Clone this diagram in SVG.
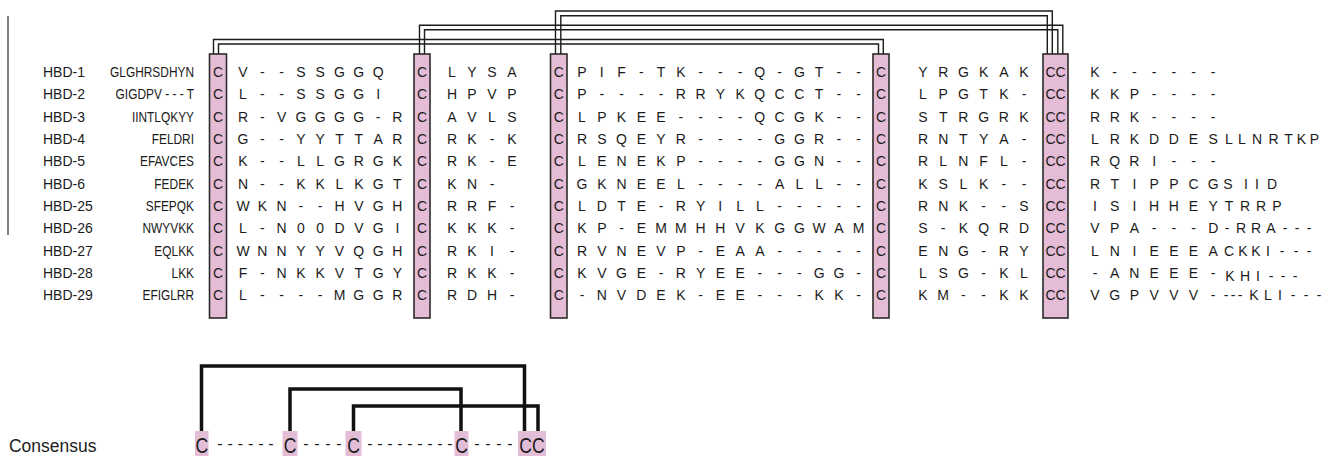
<svg xmlns="http://www.w3.org/2000/svg" width="1331" height="456" viewBox="0 0 1331 456">
<style>
.t{font-family:'Liberation Sans',Arial,Helvetica,sans-serif;font-size:14px;fill:#1b1b1b}
.a{text-anchor:middle}
.e{text-anchor:end}
.box{fill:#e5bcd5;stroke:#2b2b2b;stroke-width:1.6}
.ln{fill:none;stroke:#1b1b1b;stroke-width:1.4}
.cb{fill:#e3bdd5}
.br{fill:none;stroke:#111;stroke-width:3.5}
.ct{font-family:'Liberation Sans',Arial,Helvetica,sans-serif;fill:#1b1b1b}
.cc{font-size:22px;text-anchor:middle}
.dd{font-size:16px;text-anchor:middle}
</style>
<rect width="1331" height="456" fill="#fff"/>
<line x1="8" y1="16" x2="8" y2="235" stroke="#555" stroke-width="1.5"/>

<g id="connectors">
<path class="ln" d="M213.5 54V39.5H883.3V54"/>
<path class="ln" d="M218.5 54V44H878.5V54"/>
<path class="ln" d="M419.5 54V25.3H1062.8V54"/>
<path class="ln" d="M424.5 54V29.8H1057.8V54"/>
<path class="ln" d="M555.5 54V11H1052.3V54"/>
<path class="ln" d="M560.8 54V15.8H1047.3V54"/>
</g>

<g id="cys-columns">
<rect class="box" x="209.5" y="54" width="17" height="264"/>
<rect class="box" x="414" y="54" width="16" height="264"/>
<rect class="box" x="550.5" y="54" width="16.5" height="264"/>
<rect class="box" x="873" y="54" width="16" height="264"/>
<rect class="box" x="1043" y="54" width="25" height="264"/>
<text class="t a" x="218 218 218 218 218 218 218 218 218 218 218" y="76.8 99.15 121.5 143.85 166.2 188.55 210.9 233.25 255.6 277.95 300.3">CCCCCCCCCCC</text>
<text class="t a" x="422 422 422 422 422 422 422 422 422 422 422" y="76.8 99.15 121.5 143.85 166.2 188.55 210.9 233.25 255.6 277.95 300.3">CCCCCCCCCCC</text>
<text class="t a" x="558.7 558.7 558.7 558.7 558.7 558.7 558.7 558.7 558.7 558.7 558.7" y="76.8 99.15 121.5 143.85 166.2 188.55 210.9 233.25 255.6 277.95 300.3">CCCCCCCCCCC</text>
<text class="t a" x="881 881 881 881 881 881 881 881 881 881 881" y="76.8 99.15 121.5 143.85 166.2 188.55 210.9 233.25 255.6 277.95 300.3">CCCCCCCCCCC</text>
<text class="t a" x="1050.5 1060.5 1050.5 1060.5 1050.5 1060.5 1050.5 1060.5 1050.5 1060.5 1050.5 1060.5 1050.5 1060.5 1050.5 1060.5 1050.5 1060.5 1050.5 1060.5 1050.5 1060.5" y="76.8 76.8 99.15 99.15 121.5 121.5 143.85 143.85 166.2 166.2 188.55 188.55 210.9 210.9 233.25 233.25 255.6 255.6 277.95 277.95 300.3 300.3">CCCCCCCCCCCCCCCCCCCCCC</text>
</g>

<g id="row-hbd-1">
<text class="t" x="43" y="76.8">HBD-1</text>
<text class="t e" transform="translate(194 76.8) scale(0.85 1)">GLGHRSDHYN</text>
<text class="t a" y="76.8" x="243 262.3 281.6 300.9 320.2 339.5 358.8 378.1 397.4">V--SSGGQ</text>
<text class="t a" y="76.8" x="452 472 492 512">LYSA</text>
<text class="t a" y="76.8" x="582 601.8 621.5 641.3 661 680.8 700.6 720.3 740.1 759.8 779.6 799.4 819.1 838.9 858.6">PIF-TK---Q-GT--</text>
<text class="t a" y="76.8" x="923 943.2 963.4 983.6 1003.8 1024">YRGKAK</text>
<text class="t a" y="76.8" x="1095 1114.7 1134.4 1154.1 1173.8 1193.5 1213.2">K------</text>
</g>

<g id="row-hbd-2">
<text class="t" x="43" y="99.15">HBD-2</text>
<text class="t e" transform="translate(194 99.15) scale(0.85 1)">GIGDPV - - - T</text>
<text class="t a" y="99.15" x="243 262.3 281.6 300.9 320.2 339.5 358.8 378.1 397.4">L--SSGGI</text>
<text class="t a" y="99.15" x="452 472 492 512">HPVP</text>
<text class="t a" y="99.15" x="582 601.8 621.5 641.3 661 680.8 700.6 720.3 740.1 759.8 779.6 799.4 819.1 838.9 858.6">P----RRYKQCCT--</text>
<text class="t a" y="99.15" x="923 943.2 963.4 983.6 1003.8 1024">LPGTK-</text>
<text class="t a" y="99.15" x="1095 1114.7 1134.4 1154.1 1173.8 1193.5 1213.2">KKP----</text>
</g>

<g id="row-hbd-3">
<text class="t" x="43" y="121.5">HBD-3</text>
<text class="t e" transform="translate(194 121.5) scale(0.85 1)">IINTLQKYY</text>
<text class="t a" y="121.5" x="243 262.3 281.6 300.9 320.2 339.5 358.8 378.1 397.4">R-VGGGG-R</text>
<text class="t a" y="121.5" x="452 472 492 512">AVLS</text>
<text class="t a" y="121.5" x="582 601.8 621.5 641.3 661 680.8 700.6 720.3 740.1 759.8 779.6 799.4 819.1 838.9 858.6">LPKEE----QCGK--</text>
<text class="t a" y="121.5" x="923 943.2 963.4 983.6 1003.8 1024">STRGRK</text>
<text class="t a" y="121.5" x="1095 1114.7 1134.4 1154.1 1173.8 1193.5 1213.2">RRK----</text>
</g>

<g id="row-hbd-4">
<text class="t" x="43" y="143.85">HBD-4</text>
<text class="t e" transform="translate(194 143.85) scale(0.85 1)">FELDRI</text>
<text class="t a" y="143.85" x="243 262.3 281.6 300.9 320.2 339.5 358.8 378.1 397.4">G--YYTTAR</text>
<text class="t a" y="143.85" x="452 472 492 512">RK-K</text>
<text class="t a" y="143.85" x="582 601.8 621.5 641.3 661 680.8 700.6 720.3 740.1 759.8 779.6 799.4 819.1 838.9 858.6">RSQEYR----GGR--</text>
<text class="t a" y="143.85" x="923 943.2 963.4 983.6 1003.8 1024">RNTYA-</text>
<text class="t a" y="143.85" x="1095 1114.7 1134.4 1154.1 1173.8 1193.5 1213.2 1229 1242 1257 1273.5 1288.5 1301.5 1314.5">LRKDDESLLNRTKP</text>
</g>

<g id="row-hbd-5">
<text class="t" x="43" y="166.2">HBD-5</text>
<text class="t e" transform="translate(194 166.2) scale(0.85 1)">EFAVCES</text>
<text class="t a" y="166.2" x="243 262.3 281.6 300.9 320.2 339.5 358.8 378.1 397.4">K--LLGRGK</text>
<text class="t a" y="166.2" x="452 472 492 512">RK-E</text>
<text class="t a" y="166.2" x="582 601.8 621.5 641.3 661 680.8 700.6 720.3 740.1 759.8 779.6 799.4 819.1 838.9 858.6">LENEKP----GGN--</text>
<text class="t a" y="166.2" x="923 943.2 963.4 983.6 1003.8 1024">RLNFL-</text>
<text class="t a" y="166.2" x="1095 1114.7 1134.4 1154.1 1173.8 1193.5 1213.2">RQRI---</text>
</g>

<g id="row-hbd-6">
<text class="t" x="43" y="188.55">HBD-6</text>
<text class="t e" transform="translate(194 188.55) scale(0.85 1)">FEDEK</text>
<text class="t a" y="188.55" x="243 262.3 281.6 300.9 320.2 339.5 358.8 378.1 397.4">N--KKLKGT</text>
<text class="t a" y="188.55" x="452 472 492 512">KN-</text>
<text class="t a" y="188.55" x="582 601.8 621.5 641.3 661 680.8 700.6 720.3 740.1 759.8 779.6 799.4 819.1 838.9 858.6">GKNEEL----ALL--</text>
<text class="t a" y="188.55" x="923 943.2 963.4 983.6 1003.8 1024">KSLK--</text>
<text class="t a" y="188.55" x="1095 1114.7 1134.4 1154.1 1173.8 1193.5 1213.2 1228 1246 1257 1272">RTIPPCGSIID</text>
</g>

<g id="row-hbd-25">
<text class="t" x="43" y="210.9">HBD-25</text>
<text class="t e" transform="translate(194 210.9) scale(0.85 1)">SFEPQK</text>
<text class="t a" y="210.9" x="243 262.3 281.6 300.9 320.2 339.5 358.8 378.1 397.4">WKN--HVGH</text>
<text class="t a" y="210.9" x="452 472 492 512">RRF-</text>
<text class="t a" y="210.9" x="582 601.8 621.5 641.3 661 680.8 700.6 720.3 740.1 759.8 779.6 799.4 819.1 838.9 858.6">LDTE-RYILL-----</text>
<text class="t a" y="210.9" x="923 943.2 963.4 983.6 1003.8 1024">RNK--S</text>
<text class="t a" y="210.9" x="1095 1114.7 1134.4 1154.1 1173.8 1193.5 1213.2 1229 1245 1261 1277">ISIHHEYTRRP</text>
</g>

<g id="row-hbd-26">
<text class="t" x="43" y="233.25">HBD-26</text>
<text class="t e" transform="translate(194 233.25) scale(0.85 1)">NWYVKK</text>
<text class="t a" y="233.25" x="243 262.3 281.6 300.9 320.2 339.5 358.8 378.1 397.4">L-N00DVGI</text>
<text class="t a" y="233.25" x="452 472 492 512">KKK-</text>
<text class="t a" y="233.25" x="582 601.8 621.5 641.3 661 680.8 700.6 720.3 740.1 759.8 779.6 799.4 819.1 838.9 858.6">KP-EMMHHVKGGWAM</text>
<text class="t a" y="233.25" x="923 943.2 963.4 983.6 1003.8 1024">S-KQRD</text>
<text class="t a" y="233.25" x="1095 1114.7 1134.4 1154.1 1173.8 1193.5 1213.2 1227 1241 1256 1271 1285 1297 1309">VPA---D-RRA---</text>
</g>

<g id="row-hbd-27">
<text class="t" x="43" y="255.6">HBD-27</text>
<text class="t e" transform="translate(194 255.6) scale(0.85 1)">EQLKK</text>
<text class="t a" y="255.6" x="243 262.3 281.6 300.9 320.2 339.5 358.8 378.1 397.4">WNNYYVQGH</text>
<text class="t a" y="255.6" x="452 472 492 512">RKI-</text>
<text class="t a" y="255.6" x="582 601.8 621.5 641.3 661 680.8 700.6 720.3 740.1 759.8 779.6 799.4 819.1 838.9 858.6">RVNEVP-EAA-----</text>
<text class="t a" y="255.6" x="923 943.2 963.4 983.6 1003.8 1024">ENG-RY</text>
<text class="t a" y="255.6" x="1095 1114.7 1134.4 1154.1 1173.8 1193.5 1213.2 1229 1243 1256 1268 1282 1296 1309">LNIEEEACKKI---</text>
</g>

<g id="row-hbd-28">
<text class="t" x="43" y="277.95">HBD-28</text>
<text class="t e" transform="translate(194 277.95) scale(0.85 1)">LKK</text>
<text class="t a" y="277.95" x="243 262.3 281.6 300.9 320.2 339.5 358.8 378.1 397.4">F-NKKVTGY</text>
<text class="t a" y="277.95" x="452 472 492 512">RKK-</text>
<text class="t a" y="277.95" x="582 601.8 621.5 641.3 661 680.8 700.6 720.3 740.1 759.8 779.6 799.4 819.1 838.9 858.6">KVGE-RYEE---GG-</text>
<text class="t a" y="277.95" x="923 943.2 963.4 983.6 1003.8 1024">LSG-KL</text>
<text class="t a" y="277.95" x="1095 1114.7 1134.4 1154.1 1173.8 1193.5 1213.2">-ANEEE-</text>
<text class="t a" y="281" x="1230 1245 1258 1271 1283 1295">KHI---</text>
</g>

<g id="row-hbd-29">
<text class="t" x="43" y="300.3">HBD-29</text>
<text class="t e" transform="translate(194 300.3) scale(0.85 1)">EFIGLRR</text>
<text class="t a" y="300.3" x="243 262.3 281.6 300.9 320.2 339.5 358.8 378.1 397.4">L----MGGR</text>
<text class="t a" y="300.3" x="452 472 492 512">RDH-</text>
<text class="t a" y="300.3" x="582 601.8 621.5 641.3 661 680.8 700.6 720.3 740.1 759.8 779.6 799.4 819.1 838.9 858.6">-NVDEK-EE---KK-</text>
<text class="t a" y="300.3" x="923 943.2 963.4 983.6 1003.8 1024">KM--KK</text>
<text class="t a" y="300.3" x="1095 1114.7 1134.4 1154.1 1173.8 1193.5 1213.2 1226 1233 1240 1254 1268 1280 1293 1306 1319">VGPVVV----KLI---</text>
</g>

<g id="consensus">
<rect class="cb" x="195" y="431" width="13.5" height="25"/>
<rect class="cb" x="282.5" y="431" width="15" height="25"/>
<rect class="cb" x="345.5" y="431" width="16" height="25"/>
<rect class="cb" x="454.5" y="431" width="14" height="25"/>
<rect class="cb" x="518" y="431" width="28" height="25"/>
<path class="br" d="M201.5 431V366H524.5V431"/>
<path class="br" d="M290 431V389H461V431"/>
<path class="br" d="M353.5 431V406H538V431"/>
<text class="ct" font-size="19" transform="translate(9 452) scale(0.92 1)">Consensus</text>
<text class="ct cc" transform="translate(201.8 453) scale(0.8 1)">C</text>
<text class="ct cc" transform="translate(290 453) scale(0.8 1)">C</text>
<text class="ct cc" transform="translate(353.5 453) scale(0.8 1)">C</text>
<text class="ct cc" transform="translate(461.5 453) scale(0.8 1)">C</text>
<text class="ct cc" transform="translate(532 453) scale(0.8 1)">CC</text>
<text class="ct dd" y="449" x="220 230.2 240.4 250.6 260.8 271">------</text>
<text class="ct dd" y="449" x="306 317 328 339">----</text>
<text class="ct dd" y="449" x="370 380 390 400 410 420 430 440 450">---------</text>
<text class="ct dd" y="449" x="477 488 499 510">----</text>
</g>
</svg>
